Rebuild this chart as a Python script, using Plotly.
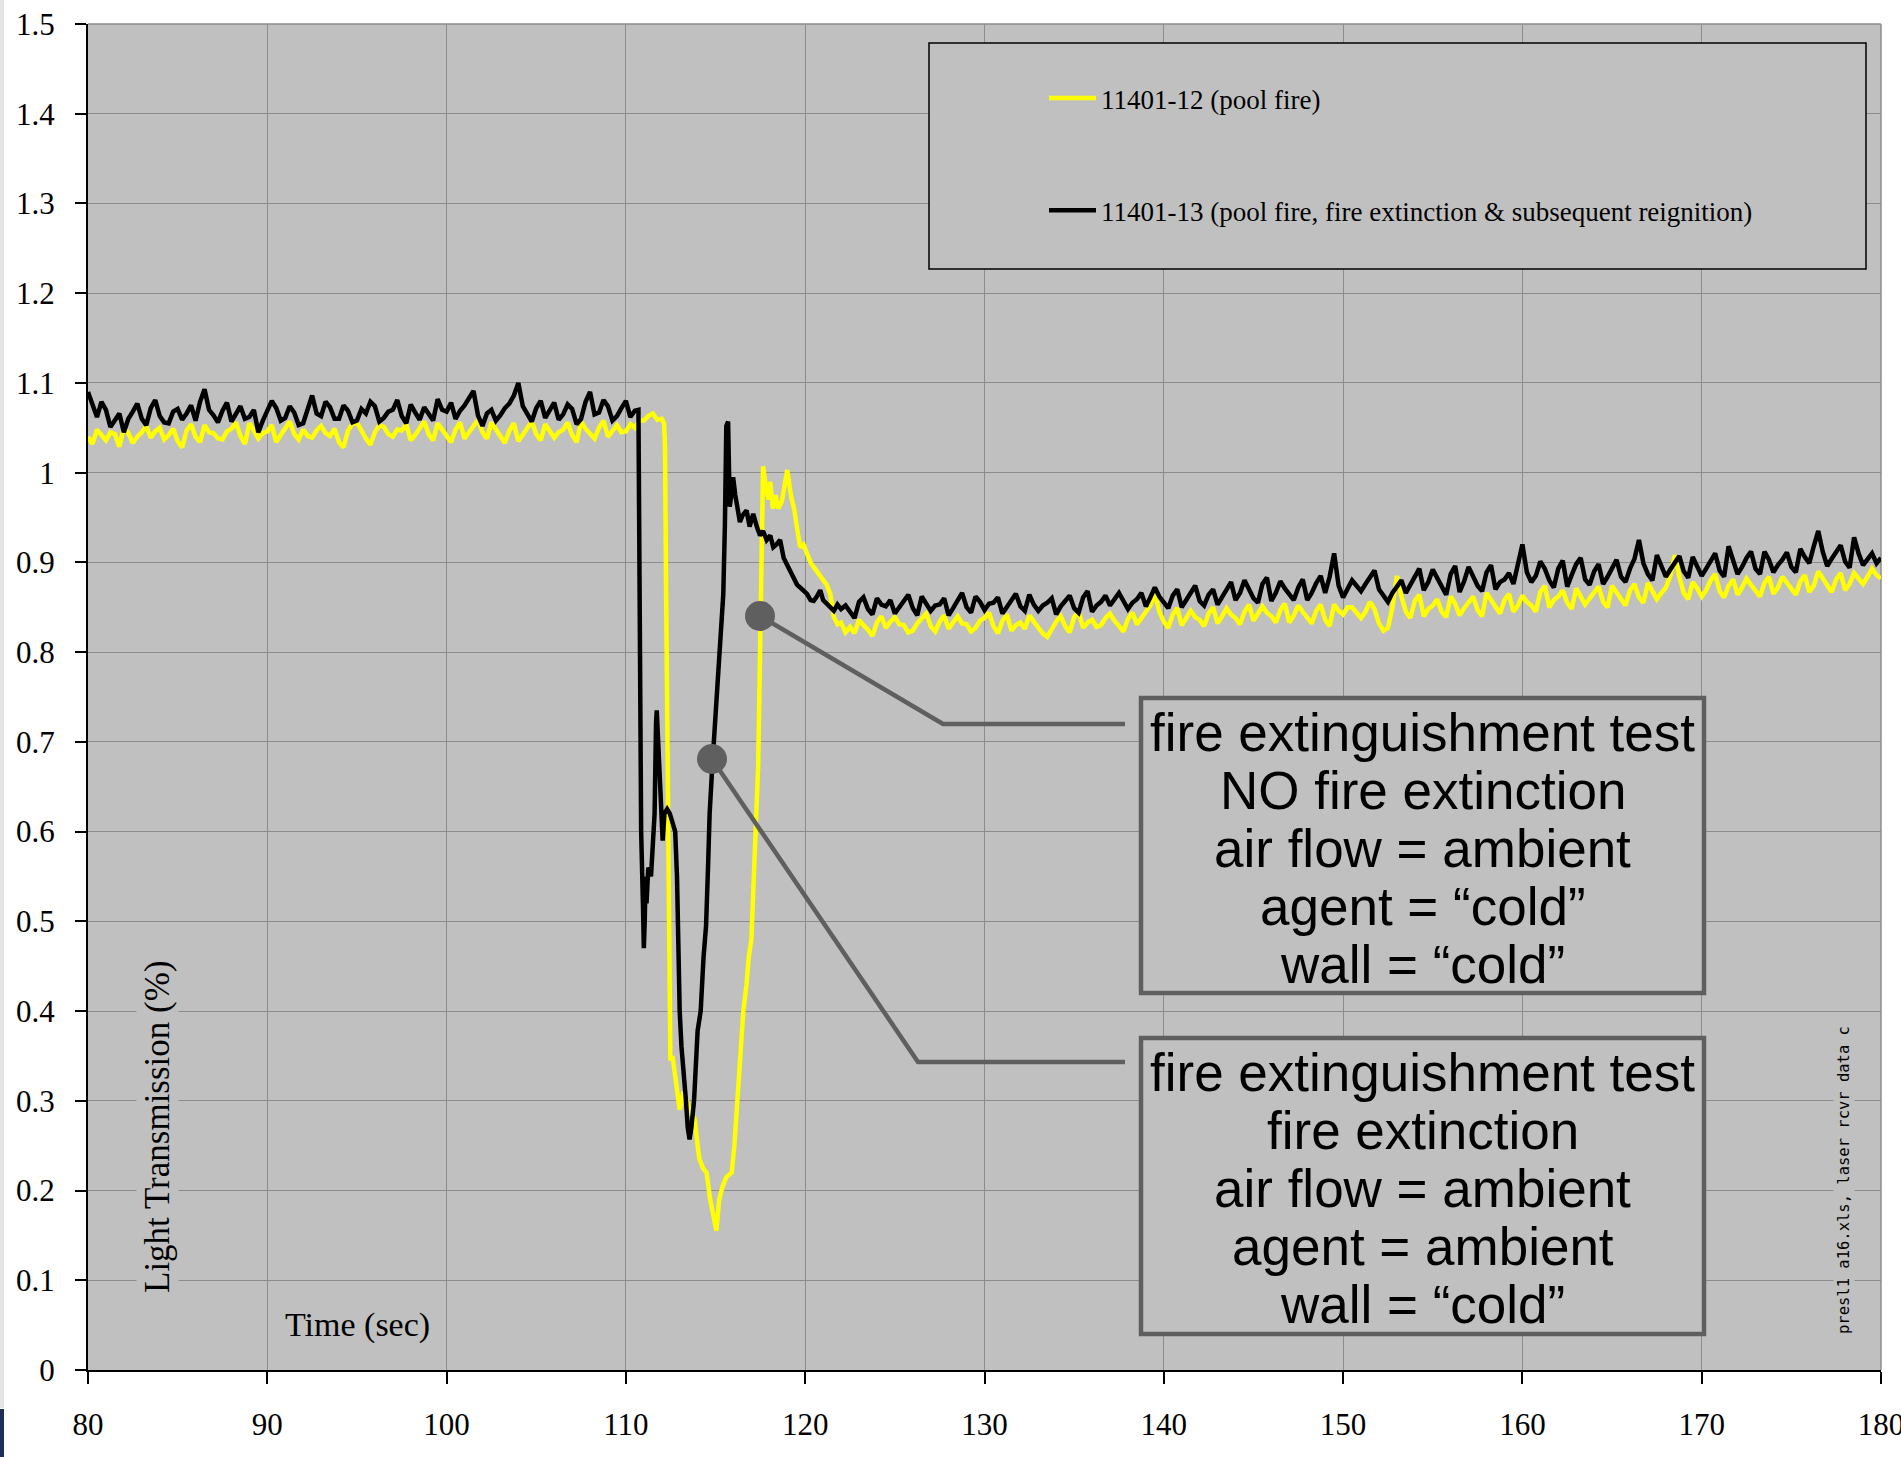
import plotly.graph_objects as go

# ---------------- data ----------------
SAMPLE_DT = 0.25

# 11401-13 (black) : steady part before the extinguishment event, t = 80.00 .. 110.50
black_pre_t0 = 80.0
black_pre = [1.090, 1.074, 1.062, 1.079, 1.070, 1.051, 1.058, 1.066, 1.045, 1.060, 1.068, 1.077, 1.060, 1.053, 1.072, 1.081, 1.063, 1.056, 1.055, 1.068,
             1.071, 1.059, 1.066, 1.075, 1.058, 1.079, 1.093, 1.070, 1.064, 1.056, 1.069, 1.078, 1.057, 1.066, 1.074, 1.060, 1.062, 1.070, 1.045, 1.058,
             1.068, 1.080, 1.072, 1.058, 1.061, 1.074, 1.067, 1.053, 1.055, 1.071, 1.086, 1.066, 1.063, 1.079, 1.073, 1.060, 1.060, 1.075, 1.069, 1.056,
             1.058, 1.071, 1.066, 1.079, 1.074, 1.057, 1.061, 1.068, 1.070, 1.081, 1.063, 1.055, 1.076, 1.067, 1.059, 1.073, 1.066, 1.058, 1.082, 1.070,
             1.068, 1.078, 1.060, 1.069, 1.075, 1.083, 1.091, 1.064, 1.052, 1.066, 1.070, 1.058, 1.064, 1.072, 1.077, 1.086, 1.100, 1.074, 1.066, 1.057,
             1.072, 1.080, 1.061, 1.070, 1.078, 1.059, 1.065, 1.076, 1.071, 1.054, 1.060, 1.079, 1.090, 1.065, 1.067, 1.081, 1.074, 1.058, 1.063, 1.072,
             1.080, 1.062, 1.069]
# transition (irregular times)
black_tr_t = [110.70, 110.75, 110.80, 110.85, 110.95, 111.00, 111.05, 111.10, 111.15, 111.25,
              111.40, 111.50, 111.60, 111.68, 111.72, 111.80, 111.90, 112.00, 112.05, 112.15,
              112.30, 112.45, 112.60, 112.75, 112.85, 112.93, 113.00, 113.10, 113.20, 113.35,
              113.45, 113.55, 113.65, 113.80, 114.00, 114.17, 114.33, 114.47, 114.58, 114.67,
              114.83, 115.00, 115.17, 115.30, 115.43, 115.52, 115.60, 115.70, 115.79, 115.88,
              115.98, 116.10, 116.20, 116.36, 116.50, 116.73, 116.90, 117.10, 117.30, 117.48,
              117.65, 117.85, 118.05, 118.22, 118.40, 118.60, 118.80, 118.97, 119.15, 119.35,
              119.55, 119.72, 119.90, 120.10, 120.30, 120.47, 120.65, 120.84, 121.00, 121.20,
              121.40, 121.60, 121.80, 122.00, 122.25]
black_tr_v = [1.070, 0.950, 0.720, 0.600, 0.520, 0.470, 0.500, 0.550, 0.520, 0.560,
              0.550, 0.580, 0.620, 0.720, 0.735, 0.700, 0.660, 0.630, 0.590, 0.620,
              0.625, 0.620, 0.610, 0.600, 0.550, 0.450, 0.400, 0.360, 0.340, 0.300,
              0.270, 0.257, 0.270, 0.300, 0.378, 0.400, 0.460, 0.495, 0.560, 0.620,
              0.677, 0.730, 0.800, 0.830, 0.864, 0.940, 1.052, 1.057, 0.962, 0.975,
              0.995, 0.975, 0.960, 0.945, 0.952, 0.958, 0.940, 0.954, 0.940, 0.930,
              0.935, 0.925, 0.930, 0.917, 0.920, 0.925, 0.905, 0.898, 0.890, 0.883,
              0.875, 0.872, 0.868, 0.865, 0.858, 0.857, 0.862, 0.869, 0.858, 0.854,
              0.850, 0.846, 0.853, 0.848, 0.852]
# after the event, t = 122.50 .. 180.00
black_post_t0 = 122.5
black_post = [0.845, 0.838, 0.856, 0.861, 0.848, 0.842, 0.860, 0.853, 0.851, 0.858, 0.843, 0.850, 0.857, 0.864, 0.849, 0.841, 0.862, 0.855, 0.846, 0.852,
              0.853, 0.860, 0.841, 0.849, 0.858, 0.866, 0.850, 0.844, 0.862, 0.856, 0.847, 0.854, 0.855, 0.861, 0.843, 0.850, 0.859, 0.865, 0.851, 0.846,
              0.864, 0.853, 0.846, 0.852, 0.855, 0.860, 0.842, 0.851, 0.857, 0.863, 0.849, 0.844, 0.861, 0.868, 0.845, 0.852, 0.856, 0.863, 0.852, 0.859,
              0.866, 0.857, 0.848, 0.855, 0.859, 0.866, 0.851, 0.861, 0.872, 0.862, 0.855, 0.849, 0.863, 0.870, 0.850, 0.858, 0.868, 0.874, 0.857, 0.852,
              0.864, 0.870, 0.853, 0.861, 0.871, 0.878, 0.858, 0.866, 0.880, 0.869, 0.860, 0.855, 0.876, 0.883, 0.857, 0.866, 0.879, 0.871, 0.864, 0.858,
              0.872, 0.881, 0.858, 0.866, 0.877, 0.885, 0.866, 0.884, 0.910, 0.874, 0.861, 0.870, 0.880, 0.874, 0.868, 0.876, 0.884, 0.891, 0.870, 0.862,
              0.856, 0.866, 0.873, 0.880, 0.866, 0.875, 0.886, 0.893, 0.869, 0.878, 0.892, 0.883, 0.872, 0.864, 0.887, 0.896, 0.867, 0.879, 0.895, 0.884,
              0.874, 0.868, 0.889, 0.897, 0.870, 0.878, 0.881, 0.888, 0.876, 0.898, 0.920, 0.889, 0.878, 0.885, 0.901, 0.893, 0.880, 0.872, 0.893, 0.902,
              0.873, 0.886, 0.898, 0.905, 0.881, 0.875, 0.890, 0.898, 0.876, 0.884, 0.895, 0.903, 0.884, 0.878, 0.893, 0.904, 0.925, 0.899, 0.887, 0.880,
              0.908, 0.897, 0.884, 0.892, 0.899, 0.907, 0.890, 0.883, 0.906, 0.896, 0.885, 0.893, 0.902, 0.910, 0.891, 0.884, 0.918, 0.901, 0.887, 0.895,
              0.905, 0.912, 0.893, 0.887, 0.912, 0.903, 0.889, 0.897, 0.903, 0.911, 0.895, 0.889, 0.915, 0.906, 0.899, 0.918, 0.935, 0.912, 0.896, 0.904,
              0.912, 0.919, 0.901, 0.894, 0.928, 0.910, 0.897, 0.903, 0.910, 0.899, 0.905]

# 11401-12 (yellow) : t = 80.00 .. 112.00
yellow_pre_t0 = 80.0
yellow_pre = [1.040, 1.032, 1.048, 1.041, 1.036, 1.045, 1.043, 1.029, 1.051, 1.044, 1.033, 1.040, 1.045, 1.052, 1.039, 1.046, 1.050, 1.037, 1.042, 1.049,
              1.035, 1.028, 1.047, 1.054, 1.040, 1.034, 1.053, 1.045, 1.044, 1.038, 1.037, 1.046, 1.049, 1.056, 1.041, 1.032, 1.055, 1.047, 1.038, 1.044,
              1.046, 1.053, 1.034, 1.042, 1.050, 1.057, 1.043, 1.037, 1.048, 1.041, 1.039, 1.047, 1.052, 1.044, 1.041, 1.049, 1.034, 1.028, 1.047, 1.054,
              1.056, 1.046, 1.038, 1.031, 1.045, 1.053, 1.051, 1.043, 1.040, 1.048, 1.047, 1.054, 1.036, 1.042, 1.049, 1.057, 1.043, 1.036, 1.055, 1.047,
              1.041, 1.034, 1.048, 1.056, 1.038, 1.045, 1.052, 1.059, 1.045, 1.038, 1.056, 1.048, 1.040, 1.033, 1.047, 1.055, 1.035, 1.042, 1.049, 1.057,
              1.043, 1.036, 1.054, 1.047, 1.039, 1.045, 1.048, 1.056, 1.042, 1.034, 1.057, 1.049, 1.044, 1.038, 1.050, 1.058, 1.040, 1.047, 1.053, 1.045,
              1.046, 1.054, 1.050, 1.058, 1.058, 1.063, 1.066, 1.059, 1.060]
yellow_tr_t = [112.13, 112.18, 112.25, 112.32, 112.40, 112.48, 112.60, 112.80, 113.00, 113.20,
               113.40, 113.60, 113.83, 114.00, 114.10, 114.30, 114.50, 114.70, 114.86, 115.05,
               115.20, 115.40, 115.60, 115.90, 116.05, 116.17, 116.36, 116.55, 116.73, 116.85,
               117.00, 117.10, 117.20, 117.30, 117.38, 117.45, 117.52, 117.57, 117.65, 117.80,
               117.95, 118.05, 118.20, 118.35, 118.50, 118.70, 118.85, 119.00, 119.20, 119.40,
               119.53, 119.72, 119.90, 120.10, 120.30, 120.47, 120.65, 120.84, 121.00, 121.20,
               121.40, 121.60, 121.80, 122.00, 122.25]
yellow_tr_v = [1.055, 1.030, 0.850, 0.650, 0.450, 0.345, 0.350, 0.320, 0.290, 0.310,
               0.300, 0.285, 0.280, 0.250, 0.235, 0.225, 0.220, 0.190, 0.175, 0.155,
               0.190, 0.205, 0.215, 0.220, 0.250, 0.290, 0.355, 0.400, 0.430, 0.460,
               0.480, 0.530, 0.570, 0.610, 0.675, 0.760, 0.840, 0.966, 1.007, 0.985,
               0.970, 0.990, 0.960, 0.975, 0.960, 0.968, 0.985, 1.003, 0.975, 0.958,
               0.940, 0.917, 0.920, 0.910, 0.900, 0.895, 0.890, 0.884, 0.880, 0.875,
               0.865, 0.839, 0.831, 0.833, 0.822]
yellow_post_t0 = 122.5
yellow_post = [0.828, 0.821, 0.836, 0.830, 0.825, 0.818, 0.833, 0.840, 0.827, 0.834, 0.839, 0.831, 0.830, 0.822, 0.824, 0.832, 0.837, 0.843, 0.829, 0.823,
               0.834, 0.841, 0.826, 0.833, 0.840, 0.832, 0.831, 0.823, 0.827, 0.835, 0.838, 0.844, 0.829, 0.821, 0.835, 0.842, 0.824, 0.830, 0.833, 0.826,
               0.841, 0.834, 0.828, 0.821, 0.817, 0.826, 0.834, 0.840, 0.829, 0.822, 0.839, 0.845, 0.827, 0.833, 0.836, 0.828, 0.830, 0.838, 0.843, 0.835,
               0.829, 0.823, 0.837, 0.844, 0.831, 0.838, 0.844, 0.852, 0.866, 0.845, 0.834, 0.827, 0.842, 0.849, 0.830, 0.838, 0.846, 0.839, 0.836, 0.829,
               0.843, 0.850, 0.832, 0.840, 0.849, 0.842, 0.838, 0.831, 0.845, 0.853, 0.835, 0.843, 0.851, 0.844, 0.840, 0.833, 0.847, 0.854, 0.833, 0.841,
               0.852, 0.845, 0.839, 0.832, 0.846, 0.853, 0.836, 0.829, 0.853, 0.846, 0.842, 0.850, 0.850, 0.843, 0.838, 0.845, 0.856, 0.848, 0.832, 0.824,
               0.827, 0.850, 0.885, 0.862, 0.845, 0.838, 0.857, 0.864, 0.840, 0.848, 0.852, 0.859, 0.845, 0.839, 0.862, 0.854, 0.841, 0.849, 0.855, 0.862,
               0.847, 0.840, 0.866, 0.858, 0.849, 0.843, 0.858, 0.865, 0.845, 0.852, 0.863, 0.856, 0.852, 0.845, 0.867, 0.874, 0.850, 0.858, 0.862, 0.869,
               0.855, 0.848, 0.871, 0.863, 0.853, 0.860, 0.866, 0.873, 0.856, 0.850, 0.874, 0.866, 0.858, 0.852, 0.869, 0.876, 0.861, 0.855, 0.877, 0.869,
               0.859, 0.866, 0.872, 0.885, 0.908, 0.884, 0.866, 0.859, 0.878, 0.871, 0.862, 0.869, 0.880, 0.887, 0.868, 0.861, 0.874, 0.881, 0.864, 0.872,
               0.882, 0.875, 0.869, 0.862, 0.877, 0.884, 0.865, 0.872, 0.884, 0.877, 0.871, 0.864, 0.879, 0.886, 0.867, 0.874, 0.890, 0.882, 0.874, 0.867,
               0.881, 0.888, 0.869, 0.876, 0.888, 0.881, 0.876, 0.884, 0.893, 0.886, 0.882]

x_ticks = [80, 90, 100, 110, 120, 130, 140, 150, 160, 170, 180]
y_ticks = [0, 0.1, 0.2, 0.3, 0.4, 0.5, 0.6, 0.7, 0.8, 0.9, 1.0, 1.1, 1.2, 1.3, 1.4, 1.5]
y_tick_text = ["0", "0.1", "0.2", "0.3", "0.4", "0.5", "0.6", "0.7", "0.8", "0.9",
               "1", "1.1", "1.2", "1.3", "1.4", "1.5"]

series_names = ["11401-12 (pool fire)",
                "11401-13 (pool fire, fire extinction & subsequent reignition)"]

box1_lines = ["fire extinguishment test", "NO fire extinction", "air flow = ambient",
              "agent = \u201ccold\u201d", "wall = \u201ccold\u201d"]
box2_lines = ["fire extinguishment test", "fire extinction", "air flow = ambient",
              "agent = ambient", "wall = \u201ccold\u201d"]

# ---------------- assemble series ----------------
def sampled_times(t0, n):
    return [t0 + SAMPLE_DT * i for i in range(n)]

black_t = sampled_times(black_pre_t0, len(black_pre)) + black_tr_t + sampled_times(black_post_t0, len(black_post))
black_v = black_pre + black_tr_v + black_post
yellow_t = sampled_times(yellow_pre_t0, len(yellow_pre)) + yellow_tr_t + sampled_times(yellow_post_t0, len(yellow_post))
yellow_v = yellow_pre + yellow_tr_v + yellow_post

# ---------------- layout geometry ----------------
W, H = 1901, 1457
L, R, T, B = 88, 20, 24, 87
PW, PH = W - L - R, H - T - B
XR, YR = (80, 180), (0, 1.5)

def px2x(px):
    return XR[0] + (px - L) / PW * (XR[1] - XR[0])

def py2y(py):
    return YR[0] + (H - B - py) / PH * (YR[1] - YR[0])

def ppx(px):
    return (px - L) / PW

def ppy(py):
    return (H - B - py) / PH

GRID = "#8c8c8c"
BG = "#c0c0c0"
CALL = "#5f5f5f"
SERIF = "Liberation Serif, Times New Roman, serif"
SANS = "Liberation Sans, Arial, Helvetica, sans-serif"

fig = go.Figure()
fig.add_trace(go.Scatter(x=yellow_t, y=yellow_v, mode="lines", name=series_names[0],
                         line=dict(color="#ffff00", width=4.5), legendgroup="a"))
fig.add_trace(go.Scatter(x=black_t, y=black_v, mode="lines", name=series_names[1],
                         line=dict(color="#000000", width=4.5), legendgroup="b"))

shapes = []
# legend frame
shapes.append(dict(type="rect", xref="x", yref="y", x0=px2x(929), x1=px2x(1866),
                   y0=py2y(43), y1=py2y(269), fillcolor=BG,
                   line=dict(color="#000000", width=1.5), layer="above"))
# text boxes
for top, bot in [(698, 993), (1038, 1334)]:
    shapes.append(dict(type="rect", xref="x", yref="y", x0=px2x(1141), x1=px2x(1704),
                       y0=py2y(top), y1=py2y(bot), fillcolor=BG,
                       line=dict(color=CALL, width=4.5), layer="above"))
# callout lines and dots
callouts = [((760, 616), (943, 724), (1125, 724)),
            ((712, 759), (918, 1062), (1125, 1062))]
for (d, e, f) in callouts:
    shapes.append(dict(type="path", xref="x", yref="y",
                       path=f"M {px2x(d[0])},{py2y(d[1])} L {px2x(e[0])},{py2y(e[1])} L {px2x(f[0])},{py2y(f[1])}",
                       line=dict(color=CALL, width=4.5), layer="above"))
    shapes.append(dict(type="circle", xref="x", yref="y", xsizemode="pixel", ysizemode="pixel",
                       xanchor=px2x(d[0]), yanchor=py2y(d[1]), x0=-15, x1=15, y0=-15, y1=15,
                       fillcolor=CALL, line=dict(color=CALL, width=0), layer="above"))
# top / right frame (grid coloured)
shapes.append(dict(type="line", xref="paper", yref="paper", x0=0, x1=1, y0=1, y1=1,
                   line=dict(color=GRID, width=1.5), layer="below"))
shapes.append(dict(type="line", xref="paper", yref="paper", x0=1, x1=1, y0=0, y1=1,
                   line=dict(color=GRID, width=1.5), layer="below"))
# page edge strips
shapes.append(dict(type="rect", xref="paper", yref="paper", x0=ppx(0), x1=ppx(4),
                   y0=ppy(1408), y1=ppy(0), fillcolor="#e4e4e4", line=dict(width=0), layer="below"))
shapes.append(dict(type="rect", xref="paper", yref="paper", x0=ppx(0), x1=ppx(4),
                   y0=ppy(1457), y1=ppy(1409), fillcolor="#1f2d5c", line=dict(width=0), layer="below"))

annotations = []
for i, line in enumerate(box1_lines):
    annotations.append(dict(x=px2x(1422.5), y=py2y(732 + 58 * i), xref="x", yref="y",
                            text=line, showarrow=False, xanchor="center", yanchor="middle",
                            font=dict(family=SANS, size=53, color="#000000")))
for i, line in enumerate(box2_lines):
    annotations.append(dict(x=px2x(1422.5), y=py2y(1072 + 58 * i), xref="x", yref="y",
                            text=line, showarrow=False, xanchor="center", yanchor="middle",
                            font=dict(family=SANS, size=53, color="#000000")))
# in-plot axis titles
annotations.append(dict(x=px2x(157), y=py2y(1127), xref="x", yref="y", text="Light Transmission (%)",
                        textangle=-90, showarrow=False, xanchor="center", yanchor="middle",
                        bgcolor=BG, font=dict(family=SERIF, size=35, color="#000000")))
annotations.append(dict(x=px2x(357.5), y=py2y(1325), xref="x", yref="y", text="Time (sec)",
                        showarrow=False, xanchor="center", yanchor="middle",
                        font=dict(family=SERIF, size=34, color="#000000")))
annotations.append(dict(x=px2x(1844), y=py2y(1180), xref="x", yref="y",
                        text="presl1 a16.xls, laser rcvr data c",
                        textangle=-90, showarrow=False, xanchor="center", yanchor="middle",
                        bgcolor=BG, font=dict(family="DejaVu Sans Mono, Liberation Mono, monospace",
                                              size=15.5, color="#000000")))

fig.update_layout(
    width=W, height=H,
    margin=dict(l=L, r=R, t=T, b=B, pad=0, autoexpand=False),
    paper_bgcolor="#ffffff", plot_bgcolor=BG,
    showlegend=True,
    legend=dict(x=ppx(1044), y=ppy(74), xanchor="left", yanchor="top",
                bgcolor="rgba(0,0,0,0)", borderwidth=0,
                font=dict(family=SERIF, size=27, color="#000000"),
                itemwidth=47, tracegroupgap=74, traceorder="grouped"),
    shapes=shapes, annotations=annotations,
)
fig.update_xaxes(range=list(XR), tickvals=x_ticks, showgrid=True, gridcolor=GRID, gridwidth=1.3,
                 showline=True, linecolor="#000000", linewidth=2, ticks="outside", ticklen=12,
                 tickwidth=2, tickcolor="#000000", zeroline=False, ticklabelstandoff=14,
                 automargin=False, ticklabeloverflow="allow",
                 tickfont=dict(family=SERIF, size=31, color="#000000"))
fig.update_yaxes(range=list(YR), tickvals=y_ticks, ticktext=y_tick_text, showgrid=True,
                 gridcolor=GRID, gridwidth=1.3, showline=True, linecolor="#000000", linewidth=2,
                 ticks="outside", ticklen=11, tickwidth=2, tickcolor="#000000", zeroline=False,
                 ticklabelstandoff=14, automargin=False, ticklabeloverflow="allow",
                 tickfont=dict(family=SERIF, size=31, color="#000000"))

fig.write_html("out.html")
